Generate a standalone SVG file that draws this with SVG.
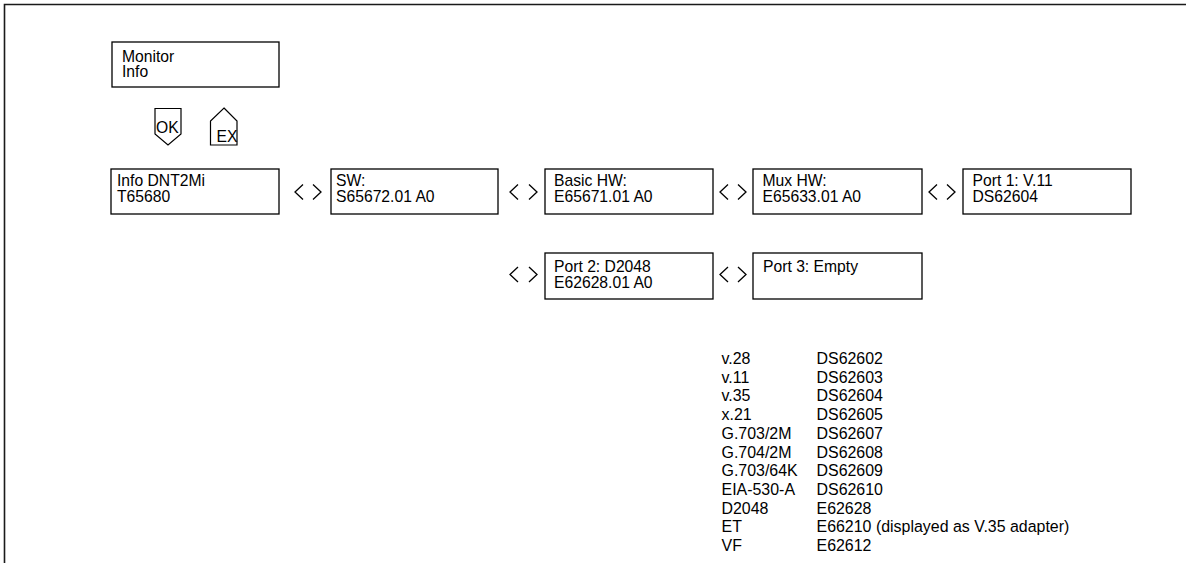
<svg xmlns="http://www.w3.org/2000/svg" width="1186" height="563" viewBox="0 0 1186 563">
<style>
  .box { fill: #fff; stroke: #000; stroke-width: 1.3; }
  .sym { fill: #fff; stroke: #000; stroke-width: 1.2; }
  .chev { fill: none; stroke: #000; stroke-width: 1.3; }
  .frame { fill: none; stroke: #1a1a1a; stroke-width: 1.6; }
  text { font-family: "Liberation Sans", Arial, sans-serif; font-size: 15.7px; fill: #000; }
  #legend text { font-size: 15.95px; }
</style>
<rect x="0" y="0" width="1186" height="563" fill="#fff"/>
<polyline class="frame" points="4.5,563 4.5,4.5 1186,4.5"/>

<g id="monitor-info">
  <rect class="box" x="112" y="42" width="167" height="45"/>
  <text x="122" y="62">Monitor</text>
  <text x="122" y="77">Info</text>
</g>
<g id="ok-key">
  <polygon class="sym" points="155,108.5 181,108.5 181,134 168,145 155,134"/>
  <text x="156" y="133">OK</text>
</g>
<g id="ex-key">
  <polygon class="sym" points="224,108 237,121 237,145 210.5,145 210.5,121"/>
  <text x="216.5" y="142">EX</text>
</g>

<g id="info-dnt2mi">
  <rect class="box" x="111" y="169" width="168" height="45"/>
  <text x="117" y="186">Info DNT2Mi</text>
  <text x="117" y="202">T65680</text>
</g>
<g id="sw">
  <rect class="box" x="331" y="169" width="167" height="45"/>
  <text x="336" y="186">SW:</text>
  <text x="336" y="202">S65672.01 A0</text>
</g>
<g id="basic-hw">
  <rect class="box" x="545" y="169" width="168" height="45"/>
  <text x="554" y="186">Basic HW:</text>
  <text x="554" y="202">E65671.01 A0</text>
</g>
<g id="mux-hw">
  <rect class="box" x="753" y="169" width="169" height="45"/>
  <text x="762.5" y="186">Mux HW:</text>
  <text x="762.5" y="202">E65633.01 A0</text>
</g>
<g id="port1">
  <rect class="box" x="963" y="169" width="168" height="45"/>
  <text x="972.5" y="186">Port 1: V.11</text>
  <text x="972.5" y="202">DS62604</text>
</g>
<g id="port2">
  <rect class="box" x="545" y="253" width="168" height="46"/>
  <text x="554" y="272">Port 2: D2048</text>
  <text x="554" y="288">E62628.01 A0</text>
</g>
<g id="port3">
  <rect class="box" x="753" y="253" width="169" height="46"/>
  <text x="763" y="272">Port 3: Empty</text>
</g>

<g id="connectors">
  <polyline class="chev" points="303,184.5 295,192 303,199.5"/>
  <polyline class="chev" points="313,184.5 321,192 313,199.5"/>
  <polyline class="chev" points="518,184.5 510,192 518,199.5"/>
  <polyline class="chev" points="529,184.5 537,192 529,199.5"/>
  <polyline class="chev" points="728,184.5 720,192 728,199.5"/>
  <polyline class="chev" points="738,184.5 746,192 738,199.5"/>
  <polyline class="chev" points="937,184.5 929,192 937,199.5"/>
  <polyline class="chev" points="947,184.5 955,192 947,199.5"/>
  <polyline class="chev" points="518,267 510,274.5 518,282"/>
  <polyline class="chev" points="529,267 537,274.5 529,282"/>
  <polyline class="chev" points="728,267 720,274.5 728,282"/>
  <polyline class="chev" points="738,267 746,274.5 738,282"/>
</g>

<g id="legend">
  <text x="721.5" y="364">v.28</text><text x="816.5" y="364">DS62602</text>
  <text x="721.5" y="382.7">v.11</text><text x="816.5" y="382.7">DS62603</text>
  <text x="721.5" y="401.4">v.35</text><text x="816.5" y="401.4">DS62604</text>
  <text x="721.5" y="420.1">x.21</text><text x="816.5" y="420.1">DS62605</text>
  <text x="721.5" y="438.8">G.703/2M</text><text x="816.5" y="438.8">DS62607</text>
  <text x="721.5" y="457.5">G.704/2M</text><text x="816.5" y="457.5">DS62608</text>
  <text x="721.5" y="476.2">G.703/64K</text><text x="816.5" y="476.2">DS62609</text>
  <text x="721.5" y="494.9">EIA-530-A</text><text x="816.5" y="494.9">DS62610</text>
  <text x="721.5" y="513.6">D2048</text><text x="816.5" y="513.6">E62628</text>
  <text x="721.5" y="532.3">ET</text><text x="816.5" y="532.3">E66210 (displayed as V.35 adapter)</text>
  <text x="721.5" y="551">VF</text><text x="816.5" y="551">E62612</text>
</g>
</svg>
